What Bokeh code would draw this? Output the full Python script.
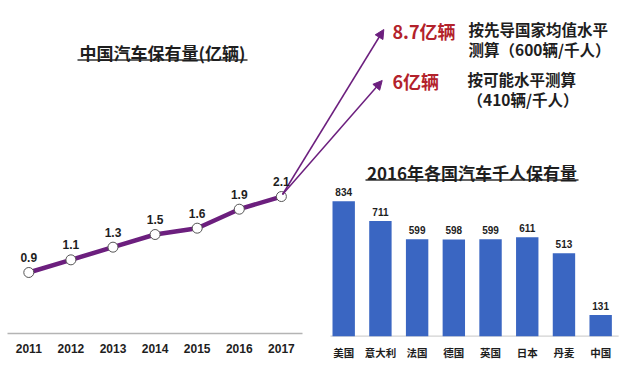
from bokeh.plotting import figure
from bokeh.models import Range1d, ColumnDataSource, LabelSet, Label, Arrow, NormalHead
from bokeh.embed import file_html
from bokeh.resources import INLINE
from bokeh.core.properties import value

# ---------------- data ----------------
years = [2011, 2012, 2013, 2014, 2015, 2016, 2017]
stock = [0.9, 1.1, 1.3, 1.5, 1.6, 1.9, 2.1]          # 亿辆
countries = ["美国", "意大利", "法国", "德国", "英国", "日本", "丹麦", "中国"]
per_thousand = [834, 711, 599, 598, 599, 611, 513, 131]
line_title = "中国汽车保有量(亿辆)"
bar_title = "2016年各国汽车千人保有量"
proj_values = ["8.7亿辆", "6亿辆"]
proj_notes = [["按先导国家均值水平", "测算（600辆/千人）"],
              ["按可能水平测算", "（410辆/千人）"]]

# ---------------- style ----------------
PURPLE = "#6C1F7E"
BLUE = "#3A66C2"
RED = "#B3222B"
DARK = "#1E1E1E"
CJK = "Noto Sans CJK SC"
LAT = "Liberation Sans"

W, H = 640, 367
p = figure(width=W, height=H, output_backend="svg", toolbar_location=None,
           x_range=Range1d(2010.328, 2025.53), y_range=Range1d(-0.601, 5.197),
           x_axis_type=None, y_axis_type=None, min_border=0)
p.outline_line_color = None
p.background_fill_color = "white"
p.border_fill_color = "white"
p.extra_x_ranges = {"bx": Range1d(-9.349, 8.085), "px": Range1d(0, 640)}
p.extra_y_ranges = {"by": Range1d(-193.3, 2073.5), "py": Range1d(367, 0)}

# ---------------- left: line chart ----------------
p.segment(x0=[7], y0=[333], x1=[302], y1=[333], line_color="#b4b4b4", line_width=1.5,
          x_range_name="px", y_range_name="py")
p.line(years, stock, line_width=4.5, line_color=PURPLE)

for tip_x, tip_y in [(383.3, 29), (381.7, 80)]:
    p.add_layout(Arrow(end=NormalHead(size=9, fill_color=PURPLE, line_color=PURPLE),
                       x_start=282, y_start=194, x_end=tip_x, y_end=tip_y,
                       line_color=PURPLE, line_width=1.5,
                       x_range_name="px", y_range_name="py"))

p.scatter(years, stock, size=10, fill_color="white", line_color="#555555", line_width=1)

line_src = ColumnDataSource(dict(x=years, y=stock, t=[f"{v:.1f}" for v in stock]))
p.add_layout(LabelSet(x="x", y="y", text="t", source=line_src, y_offset=15,
                      text_align="center", text_baseline="middle",
                      text_font=value(LAT), text_font_style="bold",
                      text_font_size="12px", text_color=DARK))

year_src = ColumnDataSource(dict(x=years, y=[348] * len(years), t=[str(y) for y in years]))
p.add_layout(LabelSet(x="x", y="y", text="t", source=year_src, y_range_name="py",
                      text_align="center", text_baseline="middle",
                      text_font=value(LAT), text_font_style="bold",
                      text_font_size="12px", text_color=DARK))

p.add_layout(Label(x=162, y=51.5, text=line_title, x_range_name="px", y_range_name="py",
                   text_align="center", text_baseline="middle", text_font=CJK,
                   text_font_style="bold", text_font_size="17px", text_color=DARK))
p.segment(x0=[77], y0=[59.5], x1=[247], y1=[59.5], line_color="#333333", line_width=1.5,
          x_range_name="px", y_range_name="py")

# projections
for txt, yy in zip(proj_values, [30, 80]):
    p.add_layout(Label(x=392, y=yy, text=txt, x_range_name="px", y_range_name="py",
                       text_align="left", text_baseline="middle", text_font=CJK,
                       text_font_style="bold", text_font_size="18px", text_color=RED))
for lines, (xx, yy) in zip(proj_notes, [(468, 28.5), (467, 78.5)]):
    for k, ln in enumerate(lines):
        p.add_layout(Label(x=xx, y=yy + 20 * k, text=ln, x_range_name="px", y_range_name="py",
                           text_align="left", text_baseline="middle", text_font=CJK,
                           text_font_style="bold", text_font_size="15.5px", text_color=DARK))

# ---------------- right: bar chart ----------------
idx = list(range(len(countries)))
p.segment(x0=[-0.36], y0=[0], x1=[7.49], y1=[0], line_color="#d2d2d2", line_width=1.2,
          x_range_name="bx", y_range_name="by")
p.vbar(x=idx, top=per_thousand, bottom=0, width=0.61, fill_color=BLUE, line_color=None,
       x_range_name="bx", y_range_name="by")

bar_src = ColumnDataSource(dict(x=idx, y=per_thousand, t=[str(v) for v in per_thousand]))
p.add_layout(LabelSet(x="x", y="y", text="t", source=bar_src, y_offset=9,
                      x_range_name="bx", y_range_name="by",
                      text_align="center", text_baseline="middle",
                      text_font=value(LAT), text_font_style="bold",
                      text_font_size="10px", text_color=DARK))

cat_src = ColumnDataSource(dict(x=idx, y=[351.5] * len(idx), t=countries))
p.add_layout(LabelSet(x="x", y="y", text="t", source=cat_src,
                      x_range_name="bx", y_range_name="py",
                      text_align="center", text_baseline="middle",
                      text_font=value(CJK), text_font_style="bold",
                      text_font_size="10.5px", text_color=DARK))

p.add_layout(Label(x=471.5, y=171.5, text=bar_title, x_range_name="px", y_range_name="py",
                   text_align="center", text_baseline="middle", text_font=CJK,
                   text_font_style="bold", text_font_size="17px", text_color=DARK))
p.segment(x0=[365], y0=[179.5], x1=[578], y1=[179.5], line_color="#333333", line_width=1.5,
          x_range_name="px", y_range_name="py")

open("out.html", "w").write(file_html(p, INLINE))
